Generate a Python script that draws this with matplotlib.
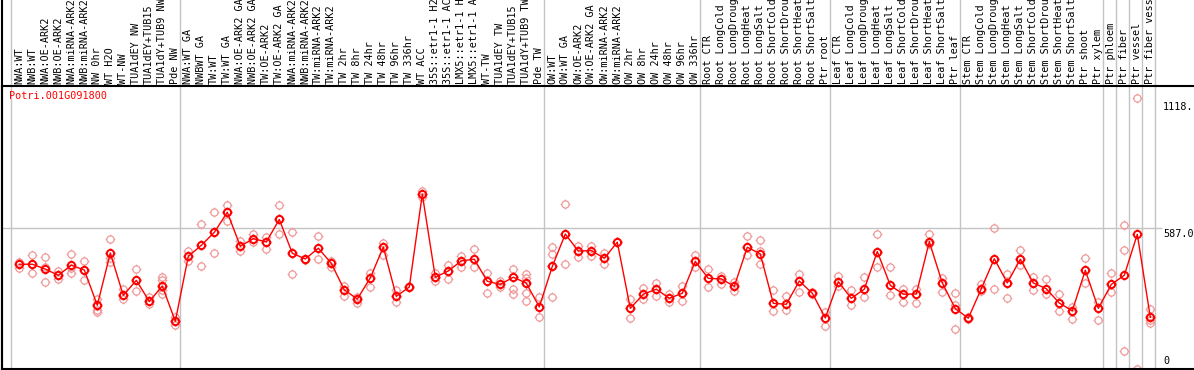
import matplotlib
matplotlib.use("Agg")
import matplotlib.pyplot as plt
from matplotlib.path import Path
import matplotlib.transforms as mtransforms
from matplotlib.lines import Line2D

title = "Potri.001G091800"

labels = [
    "NWA:WT", "NWB:WT", "NWA:OE-ARK2", "NWB:OE-ARK2", "NWA:miRNA-ARK2", "NWB:miRNA-ARK2",
    "NW 0hr", "WT H2O", "WT-NW", "TUA1dEY NW", "TUA1dEY+TUB15", "TUA1dY+TUB9 NW", "Pde NW",
    "NWA:WT GA", "NWBWT GA", "TW:WT", "TW:WT GA", "NWA:OE-ARK2 GA", "NWB:OE-ARK2 GA",
    "TW:OE-ARK2", "TW:OE-ARK2 GA", "NWA:miRNA-ARK2", "NWB:miRNA-ARK2", "TW:miRNA-ARK2",
    "TW:miRNA-ARK2", "TW 2hr", "TW 8hr", "TW 24hr", "TW 48hr", "TW 96hr", "TW 336hr",
    "WT ACC", "35S::etr1-1 H2", "35S::etr1-1 AC", "LMX5::etr1-1 H", "LMX5::etr1-1 A",
    "WT-TW", "TUA1dEY TW", "TUA1dEY+TUB15", "TUA1dY+TUB9 TW", "Pde TW",
    "OW:WT", "OW:WT GA", "OW:OE-ARK2", "OW:OE-ARK2 GA", "OW:miRNA-ARK2", "OW:miRNA-ARK2",
    "OW 2hr", "OW 8hr", "OW 24hr", "OW 48hr", "OW 96hr", "OW 336hr",
    "Root CTR", "Root LongCold", "Root LongDroug", "Root LongHeat", "Root LongSalt",
    "Root ShortCold", "Root ShortDrou", "Root ShortHeat", "Root ShortSalt", "Ptr root",
    "Leaf CTR", "Leaf LongCold", "Leaf LongDroug", "Leaf LongHeat", "Leaf LongSalt",
    "Leaf ShortCold", "Leaf ShortDrou", "Leaf ShortHeat", "Leaf ShortSalt", "Ptr leaf",
    "Stem CTR", "Stem LongCold", "Stem LongDroug", "Stem LongHeat", "Stem LongSalt",
    "Stem ShortCold", "Stem ShortDrou", "Stem ShortHeat", "Stem ShortSalt", "Ptr shoot",
    "Ptr xylem", "Ptr phloem", "Ptr fiber", "Ptr vessel", "Ptr fiber vessel",
]

means = [437, 437, 417, 391, 433, 413, 266, 484, 307, 370, 282, 346, 199,
         470, 516, 570, 654, 512, 544, 530, 624, 483, 459, 504, 441, 330, 292, 380,
         509, 303, 342, 729, 383, 409, 451, 458, 366, 353, 383, 358, 259,
         428, 563, 492, 494, 462, 529, 253, 312, 333, 295, 316, 449,
         378, 376, 345, 508, 480, 274, 270, 367, 316, 213,
         364, 295, 333, 490, 349, 312, 313, 531, 359, 252,
         212, 335, 460, 359, 458, 359, 335, 275, 243, 412, 253,
         353, 391, 562, 216]

replicates = [
    [448, 437, 420], [476, 437, 402], [466, 424, 362], [409, 391, 374], [480, 420, 402],
    [451, 413, 371], [291, 262, 246, 236], [541, 464, 445], [333, 307, 292], [417, 370, 325],
    [302, 282, 271], [384, 371, 346, 330, 313], [218, 199, 185],
    [494, 470, 451], [605, 516, 428], [654, 570, 483], [684, 654, 619], [534, 512, 494],
    [562, 544, 530], [552, 530, 502], [684, 624, 562], [570, 483, 395], [459, 455],
    [554, 504, 458], [452, 441, 424], [346, 330, 303], [299, 292, 277], [402, 380, 341],
    [527, 509, 476], [330, 303, 281], [346, 342], [744, 729, 719], [399, 383, 366],
    [433, 409, 376], [471, 451, 424], [499, 458, 424], [402, 366, 316], [368, 353, 343],
    [417, 383, 335, 312], [395, 378, 358, 318, 282], [299, 259, 216],
    [508, 480, 428, 300], [688, 563, 437], [514, 492, 469], [514, 494, 473], [483, 462, 439],
    [531, 529], [292, 253, 212], [337, 312, 292], [359, 333, 306], [312, 295, 280],
    [348, 316, 282], [474, 449, 424],
    [416, 378, 341], [389, 376, 355], [362, 345, 327], [555, 508, 476], [537, 492, 437],
    [328, 274, 242], [306, 270, 247], [396, 367, 320], [320, 316, 312], [239, 213, 181],
    [387, 364, 346], [330, 295, 267], [383, 333, 302], [563, 490, 427], [424, 349, 309],
    [335, 312, 281], [335, 313, 277], [563, 531, 521], [380, 359, 320], [316, 266, 166],
    [215, 212, 209], [353, 335, 327], [587, 460, 333], [395, 359, 295], [496, 458, 433],
    [385, 359, 330], [374, 335, 312], [312, 275, 241], [260, 243, 210], [462, 412, 358],
    [281, 253, 204], [399, 353, 323], [601, 495, 75], [1129, 1], [250, 216, 204, 193],
]

# group boundaries (index of first item of each group, plus end)
group_starts = [0, 13, 41, 53, 63, 73, 84, 85, 86, 87, 88]

grid_value = 587
ytick_texts = [("1118.", 1118, "top"), ("587.0", 587, "top"), ("0", 0, "bottom")]

# ---------------------------------------------------------------
W, H = 1194, 370
fig = plt.figure(figsize=(W / 100, H / 100), dpi=100)
ax_top_px = 85.7
ax_bot_px = 369.0
ax = fig.add_axes([2 / W, (H - ax_bot_px) / H, (W - 2) / W, (ax_bot_px - ax_top_px) / H])

px_per_unit = 13.0
x0_px = 19.3
xmin = -(x0_px - 2) / px_per_unit
xmax = xmin + (W - 2) / px_per_unit
ax.set_xlim(xmin, xmax)
ymax = (ax_bot_px - ax_top_px) / (ax_bot_px - 228.3) * 587
ax.set_ylim(0, ymax)

for s in ["right"]:
    ax.spines[s].set_visible(False)
for s in ["left", "top", "bottom"]:
    ax.spines[s].set_linewidth(1.5)
    ax.spines[s].set_color("black")
ax.set_xticks([])
ax.set_yticks([])

gray = "#c4c4c4"
# separators extending through the label area
ext = (ax_bot_px - 0) / (ax_bot_px - ax_top_px)
for g in group_starts:
    ax.axvline(g - 8 / 13, ymin=0, ymax=ext, color=gray, lw=1.0, clip_on=False, zorder=1)

# horizontal gridline
ax.axhline(grid_value, xmin=0, xmax=(1161 - 2) / (W - 2), color=gray, lw=1.0, zorder=1)

# left black border extends to figure top
fig.add_artist(Line2D([2 / W, 2 / W], [(H - ax_bot_px) / H, 1.0], color="black", lw=1.5))

# custom marker: circle with 4 small spikes
circ = Path.unit_circle()
ticks = []
for dx, dy in [(0, 1), (0, -1), (1, 0), (-1, 0)]:
    ticks.append(Path([(dx * 1.0, dy * 1.0), (dx * 1.35, dy * 1.35)], [Path.MOVETO, Path.LINETO]))
spike_marker = Path.make_compound_path(circ, *ticks)

rep_color = "#ef9a9a"
for i, reps in enumerate(replicates):
    ax.plot([i] * len(reps), reps, linestyle="none", marker=spike_marker, ms=7.0,
            mfc="none", mec=rep_color, mew=0.9, zorder=2)

xs = list(range(len(means)))
ax.plot(xs, means, color="red", lw=1.0, zorder=3)
ax.plot(xs, means, linestyle="none", marker=spike_marker, ms=7.0, mfc="none",
        mec="red", mew=1.4, zorder=4)

# category labels
lab_y = (ax_bot_px - 83.5) / (ax_bot_px - ax_top_px)
trans = mtransforms.blended_transform_factory(ax.transData, ax.transAxes)
for i, lab in enumerate(labels):
    ax.text(i, lab_y, lab, rotation=90, ha="center", va="bottom", transform=trans,
            family="DejaVu Sans Mono", fontsize=7.3, color="black", clip_on=False)

# title
ax.text((9.3 - 2) / (W - 2), (ax_bot_px - 96) / (ax_bot_px - ax_top_px), title,
        transform=ax.transAxes, ha="left", va="center", color="red",
        family="DejaVu Sans Mono", fontsize=7.3)

# y labels on the right
ytrans = mtransforms.blended_transform_factory(ax.transAxes, ax.transData)
for txt, val, va in ytick_texts:
    off = 3 if va == "bottom" else -1
    ax.annotate(txt, xy=((1163 - 2) / (W - 2), val), xycoords=ytrans,
                xytext=(0, off), textcoords="offset pixels", ha="left", va=va,
                family="DejaVu Sans Mono", fontsize=7.3, color="black", annotation_clip=False)

fig.savefig("out.png", dpi=100)
